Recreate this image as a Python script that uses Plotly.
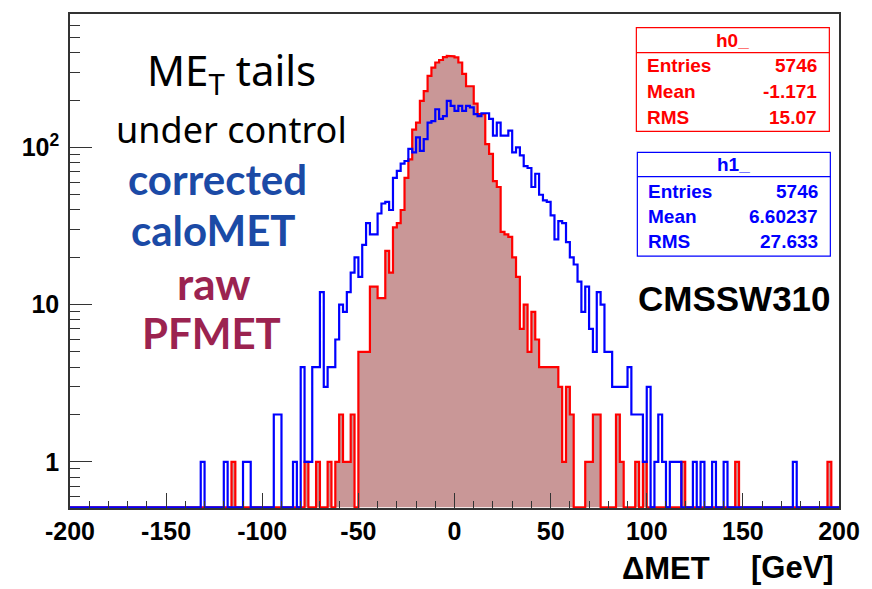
import numpy as np
import plotly.graph_objects as go

# ---------------------------------------------------------------------------
# Histogram binning: 200 bins of 2 GeV between -200 and 200
# ---------------------------------------------------------------------------
x_min, x_max, n_bins = -200, 200, 200
edges = np.linspace(x_min, x_max, n_bins + 1)

# h0_ : raw PFMET  (one row = 10 bins, row label = lower edge of first bin)
h0_counts = [
    0, 0, 0, 0, 0, 0, 0, 0, 0, 0,            # -200
    0, 0, 0, 0, 0, 0, 0, 0, 0, 0,            # -180
    0, 0, 0, 0, 0, 0, 0, 0, 0, 0,            # -160
    0, 0, 0, 0, 0, 0, 0, 0, 0, 0,            # -140
    0, 0, 1, 0, 0, 0, 0, 0, 0, 0,            # -120
    0, 0, 0, 0, 0, 0, 0, 0, 0, 0,            # -100
    0, 1, 0, 0, 1, 0, 0, 1, 0, 1,            # -80
    2, 1, 1, 2, 0, 5, 5, 5, 13, 13,          # -60
    11, 11, 22, 16, 31, 33, 40, 64, 84, 130,  # -40
    144, 198, 228, 285, 322, 347, 360, 376, 382, 380,  # -20
    374, 347, 294, 245, 245, 190, 163, 163, 105, 91,   # 0
    61, 56, 29, 28, 27, 20, 15, 7, 10, 5,    # 20
    9, 6, 4, 4, 4, 4, 4, 3, 1, 3,            # 40
    2, 0, 0, 0, 1, 1, 2, 2, 0, 0,            # 60
    0, 0, 2, 1, 0, 0, 0, 1, 0, 1,            # 80
    0, 0, 0, 0, 0, 0, 0, 0, 0, 1,            # 100
    0, 0, 0, 0, 0, 0, 0, 0, 0, 0,            # 120
    0, 0, 0, 1, 0, 0, 0, 0, 0, 0,            # 140
    0, 0, 0, 0, 0, 0, 0, 0, 0, 0,            # 160
    0, 0, 0, 0, 0, 0, 0, 1, 0, 0,            # 180
]

# h1_ : corrected caloMET
h1_counts = [
    0, 0, 0, 0, 0, 0, 0, 0, 0, 0,            # -200
    0, 0, 0, 0, 0, 0, 0, 0, 0, 0,            # -180
    0, 0, 0, 0, 0, 0, 0, 0, 0, 0,            # -160
    0, 0, 0, 0, 1, 0, 0, 0, 0, 0,            # -140
    1, 0, 0, 0, 0, 1, 1, 0, 0, 0,            # -120
    0, 0, 0, 2, 2, 0, 0, 0, 1, 0,            # -100
    4, 1, 1, 4, 4, 12, 3, 4, 4, 6,           # -80
    10, 9, 12, 16, 20, 15, 24, 33, 28, 28,   # -60
    38, 44, 45, 40, 64, 71, 79, 82, 98, 93,  # -40
    116, 95, 113, 144, 147, 175, 152, 158, 198, 184,  # -20
    171, 184, 171, 184, 180, 163, 158, 165, 165, 152,  # 0
    119, 144, 119, 119, 128, 93, 100, 89, 76, 74,      # 20
    56, 68, 50, 46, 45, 37, 26, 34, 33, 25,  # 40
    20, 18, 14, 9, 13, 7, 5, 12, 10, 5,      # 60
    5, 3, 3, 3, 3, 4, 2, 2, 2, 1,            # 80
    3, 0, 1, 2, 1, 0, 1, 1, 1, 0,            # 100
    0, 0, 1, 0, 1, 0, 0, 1, 0, 0,            # 120
    1, 0, 0, 0, 0, 0, 0, 0, 0, 0,            # 140
    0, 0, 0, 0, 0, 0, 0, 0, 1, 0,            # 160
    0, 0, 0, 0, 0, 0, 0, 0, 0, 0,            # 180
]

# Statistics boxes
h0_stats = [("Entries", "5746"), ("Mean", "-1.171"), ("RMS", "15.07")]
h1_stats = [("Entries", "5746"), ("Mean", "6.60237"), ("RMS", "27.633")]

x_ticks = [-200, -150, -100, -50, 0, 50, 100, 150, 200]
x_tick_text = ["-200", "-150", "-100", "-50", "0", "50", "100", "150", "200"]
y_ticks = [1, 10, 100]
y_tick_text = ["1", "10", "10<sup>2</sup>"]
y_minor = [0.6, 0.7, 0.8, 0.9, 2, 3, 4, 5, 6, 7, 8, 9,
           20, 30, 40, 50, 60, 70, 80, 90, 200, 300, 400, 500, 600, 700]
y_log_range = [-0.294, 2.849]

# ---------------------------------------------------------------------------
RED, BLUE = "#ff0000", "#0000ff"
FILL = "#c99797"
AXIS = "#333333"
ROOT_FONT = "Liberation Sans"

# empty bins are drawn along the lower frame, as ROOT does on a log scale
floor_val = 10 ** (y_log_range[0] + 0.004)


def step_outline(counts):
    c = np.maximum(np.asarray(counts, dtype=float), floor_val)
    xs = np.repeat(edges, 2)[1:-1]
    ys = np.repeat(c, 2)
    return xs, ys


x0, y0 = step_outline(h0_counts)
x1, y1 = step_outline(h1_counts)

fig = go.Figure()
# filled area under h0_
fig.add_trace(go.Scatter(
    x=np.concatenate([[edges[0]], x0, [edges[-1]]]),
    y=np.concatenate([[floor_val], y0, [floor_val]]),
    mode="lines", fill="toself", fillcolor=FILL,
    line=dict(width=0), hoverinfo="skip", showlegend=False))
fig.add_trace(go.Scatter(x=x0, y=y0, mode="lines",
                         line=dict(color=RED, width=2.2), name="h0_",
                         showlegend=False))
fig.add_trace(go.Scatter(x=x1, y=y1, mode="lines",
                         line=dict(color=BLUE, width=2.2), name="h1_",
                         showlegend=False))

# ---------------------------------------------------------------------------
W, H = 872, 589
ML, MR, MT, MB = 70, 29, 13, 81
PW, PH = W - ML - MR, H - MT - MB


def paper(px, py):
    """pixel position in the page -> paper coordinates"""
    return (px - ML) / PW, (H - MB - py) / PH


annotations = []


def note(text, px, py, size, color, family, weight="normal",
         xanchor="center"):
    xp, yp = paper(px, py)
    annotations.append(dict(
        text=text, x=xp, y=yp, xref="paper", yref="paper",
        xanchor=xanchor, yanchor="middle", showarrow=False,
        font=dict(size=size, color=color, family=family, weight=weight)))


HAND = "Noto Sans"
BOLD_HAND = "Lato"
note("ME<sub>T</sub> tails", 232, 72, 42, "black", HAND)
note("under control", 232, 129, 36, "black", HAND)
note("corrected", 218, 178, 42, "#1b4aa6", BOLD_HAND, "bold")
note("caloMET", 214, 229, 42, "#1b4aa6", BOLD_HAND, "bold")
note("raw", 215, 283, 44, "#9b2350", BOLD_HAND, "bold")
note("PFMET", 212, 333, 42, "#9b2350", BOLD_HAND, "bold")

note("CMSSW310", 738, 298, 35, "black", ROOT_FONT, "bold")
note("\u0394MET", 669, 569, 31, "black", ROOT_FONT, "bold")
note("[GeV]", 796, 568, 31, "black", ROOT_FONT, "bold")

shapes = []


def stat_box(name, stats, color, left, right, top, bottom, sep, rows_y,
             title_y, text_left, text_right):
    xl, yt = paper(left, top)
    xr, yb = paper(right, bottom)
    _, ys = paper(0, sep)
    shapes.append(dict(type="rect", xref="paper", yref="paper",
                       x0=xl, x1=xr, y0=yb, y1=yt,
                       line=dict(color=color, width=1.2), fillcolor="white"))
    shapes.append(dict(type="line", xref="paper", yref="paper",
                       x0=xl, x1=xr, y0=ys, y1=ys,
                       line=dict(color=color, width=1.2)))
    note(name, (left + right) / 2, title_y, 19, color, ROOT_FONT, "bold")
    for (label, value), ry in zip(stats, rows_y):
        note(label, text_left, ry, 19, color, ROOT_FONT, "bold", "left")
        note(value, text_right, ry, 19, color, ROOT_FONT, "bold", "right")


stat_box("h0_", h0_stats, RED, 639.3, 833.3, 26.7, 130.7, 51.7,
         [65, 90.7, 116.7], 39.5, 648, 823)
stat_box("h1_", h1_stats, BLUE, 640.3, 834.3, 151.7, 255.7, 176,
         [190.7, 216, 241.3], 164, 649, 824)

fig.update_layout(
    width=W, height=H,
    margin=dict(l=ML, r=MR, t=MT, b=MB, pad=0),
    paper_bgcolor="white", plot_bgcolor="white",
    annotations=annotations, shapes=shapes,
    xaxis=dict(
        range=[x_min, x_max], tickvals=x_ticks, ticktext=x_tick_text,
        ticks="inside",
        ticklen=15, tickwidth=1.3, tickcolor=AXIS,
        minor=dict(dtick=10, ticks="inside", ticklen=7, tickwidth=1.2,
                   tickcolor=AXIS),
        showline=True, linecolor=AXIS, linewidth=1.6, mirror=True,
        showgrid=False, zeroline=False, ticklabelstandoff=0,
        tickfont=dict(family=ROOT_FONT, size=25, color="black",
                      weight="bold")),
    yaxis=dict(
        type="log", range=y_log_range, tickvals=y_ticks,
        ticktext=y_tick_text, ticks="inside", ticklen=22, tickwidth=1.3,
        tickcolor=AXIS,
        minor=dict(tickvals=y_minor, ticks="inside", ticklen=10,
                   tickwidth=1.2, tickcolor=AXIS),
        showline=True, linecolor=AXIS, linewidth=1.6, mirror=True,
        showgrid=False, zeroline=False, ticklabelstandoff=4,
        tickfont=dict(family=ROOT_FONT, size=25, color="black",
                      weight="bold")),
)

fig.write_html("out.html")
